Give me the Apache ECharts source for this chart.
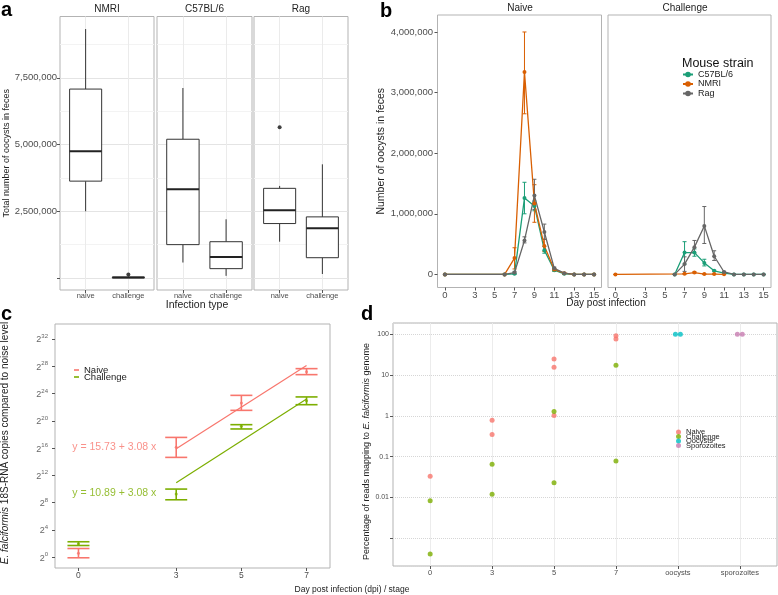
<!DOCTYPE html>
<html><head><meta charset="utf-8">
<script src="https://cdn.jsdelivr.net/npm/echarts@6/dist/echarts.min.js"></script>
<style>html,body{margin:0;padding:0;background:#fff}#c{width:778px;height:595px}</style>
</head><body><div id="c"></div><script>
// ================= DATA =================
// ---- Panel a: total oocysts per mouse strain (boxplots) ----
const strainsA = ['NMRI', 'C57BL/6', 'Rag'];
const infectionTypes = ['naive', 'challenge'];
// [min, Q1, median, Q3, max]
const boxNaiveA = [[2500000, 3630000, 4750000, 7080000, 9330000], [580000, 1250000, 3330000, 5200000, 7120000], [1360000, 2040000, 2540000, 3360000, 3450000]];
const boxChallengeA = [[0, 5000, 20000, 35000, 50000], [80000, 350000, 790000, 1360000, 2200000], [150000, 760000, 1860000, 2290000, 4260000]];
const outliersA = [['NMRI', 'challenge', 130000], ['Rag', 'naive', 5650000]];
const signifA = ['***', '***', 'NS'];
const signifLevelA = 9890000;
const ticksA = [0, 2500000, 5000000, 7500000];
const minorTicksA = [1250000, 3750000, 6250000, 8750000];

// ---- Panel b: oocysts per day ----
const strainsB = ['C57BL/6', 'NMRI', 'Rag'];
const ticksB_x = [0, 3, 5, 7, 9, 11, 13, 15];
const ticksB_y = [0, 1000000, 2000000, 3000000, 4000000];
const naiveDays = [0, 6, 7, 8, 9, 10, 11, 12, 13, 14, 15];
const c57NaiveMean = [0, 0, 10000, 1260000, 1130000, 400000, 70000, 10000, 0, 0, 0];
const c57NaiveLo   = [0, 0, 0, 1000000, 1050000, 350000, 50000, 0, 0, 0, 0];
const c57NaiveHi   = [0, 0, 20000, 1520000, 1210000, 460000, 90000, 20000, 0, 0, 0];
const nmriNaiveMean = [0, 0, 270000, 3340000, 1170000, 470000, 80000, 20000, 0, 0, 0];
const nmriNaiveLo   = [0, 0, 90000, 2650000, 860000, 380000, 60000, 10000, 0, 0, 0];
const nmriNaiveHi   = [0, 0, 440000, 4000000, 1480000, 580000, 100000, 30000, 0, 0, 0];
const ragNaiveMean = [0, 0, 30000, 560000, 1300000, 700000, 100000, 20000, 0, 0, 0];
const ragNaiveLo   = [0, 0, 10000, 520000, 1070000, 580000, 80000, 10000, 0, 0, 0];
const ragNaiveHi   = [0, 0, 50000, 620000, 1570000, 830000, 120000, 30000, 0, 0, 0];
const nmriChallengeDays = [0, 7, 8, 9, 10, 11];
const nmriChallengeMean = [0, 10000, 30000, 5000, 5000, 2000];
const nmriChallengeLo   = [0, 5000, 20000, 2000, 2000, 0];
const nmriChallengeHi   = [0, 15000, 45000, 8000, 8000, 4000];
const challengeDays = [6, 7, 8, 9, 10, 11, 12, 13, 14, 15];
const c57ChallengeMean = [0, 360000, 360000, 190000, 60000, 20000, 0, 0, 0, 0];
const c57ChallengeLo   = [0, 170000, 300000, 140000, 50000, 10000, 0, 0, 0, 0];
const c57ChallengeHi   = [0, 540000, 420000, 250000, 70000, 30000, 0, 0, 0, 0];
const ragChallengeMean = [0, 170000, 450000, 800000, 300000, 40000, 0, 0, 0, 0];
const ragChallengeLo   = [0, 50000, 350000, 510000, 230000, 30000, 0, 0, 0, 0];
const ragChallengeHi   = [0, 290000, 560000, 1120000, 390000, 50000, 0, 0, 0, 0];

// ---- Panel c: 18S-RNA copies (log2) ----
const daysC = [0, 3, 5, 7];
const ticksC_y = [0, 4, 8, 12, 16, 20, 24, 28, 32];
const naiveC   = [0.58, 16.1, 22.6, 27.2];
const naiveCLo = [-0.1, 14.63, 21.53, 26.77];
const naiveCHi = [1.26, 17.56, 23.73, 27.65];
const challengeC   = [1.95, 9.25, 19.2, 22.95];
const challengeCLo = [1.7, 8.41, 18.8, 22.36];
const challengeCHi = [2.25, 9.98, 19.43, 23.5];
const fitNaiveC = [[3, 15.9], [7, 28.1]];
const fitChallengeC = [[3, 10.9], [7, 23.2]];
const equationsC = ['y = 15.73 + 3.08 x', 'y = 10.89 + 3.08 x'];
const equationAnchorC = [[1.1, 16.2], [1.1, 9.4]];

// ---- Panel d: % reads mapping ----
const stagesD = ['0', '3', '5', '7', 'oocysts', 'sporozoites'];
const groupsD = ['Naive', 'Challenge', 'Oocysts', 'Sporozoites'];
const naiveD = [['0', 0.033], ['3', 0.78], ['3', 0.35], ['5', 25], ['5', 15.6], ['5', 1.02], ['7', 93], ['7', 77]];
const challengeD = [['0', 0.0083], ['0', 0.00041], ['3', 0.065], ['3', 0.012], ['5', 1.28], ['5', 0.023], ['7', 17.4], ['7', 0.078]];
const oocystsD = [['oocysts', 100], ['oocysts', 100]];
const sporozoitesD = [['sporozoites', 100], ['sporozoites', 100]];
const ticksD = [0.001, 0.01, 0.1, 1, 10, 100];
const tickLabelsD = ['', '0.01', '0.1', '1', '10', '100'];

// ================= STYLE =================
const FONT = 'Liberation Sans, Arial, Helvetica, sans-serif';
const AXTXT = '#4d4d4d';
const BORDER = '#b3b3b3';
const colB = {'C57BL/6': '#1b9e77', 'NMRI': '#d95f02', 'Rag': '#666666'};
const colNaive = '#F8766D', colChallenge = '#7CAE00', colOocysts = '#00BFC4', colSporo = '#C77CB0';
const AXLINE = {show: false, onZero: false};

function zip(xs, ys) { return xs.map((x, i) => [x, ys[i]]); }
function zip3(xs, a, b) { return xs.map((x, i) => [x, a[i], b[i]]); }

function errorBarSeries(name, data, color, capHalf, xi, yi, width) {
  return {
    type: 'custom', name: name, xAxisIndex: xi, yAxisIndex: yi, data: data, z: 3, silent: true,
    itemStyle: {color: color},
    renderItem: function (params, api) {
      const x = api.value(0), lo = api.value(1), hi = api.value(2);
      const a = api.coord([x, lo]), b = api.coord([x, hi]);
      const style = {stroke: color, lineWidth: width};
      return {type: 'group', children: [
        {type: 'line', shape: {x1: a[0], y1: a[1], x2: b[0], y2: b[1]}, style: style},
        {type: 'line', shape: {x1: a[0] - capHalf, y1: a[1], x2: a[0] + capHalf, y2: a[1]}, style: style},
        {type: 'line', shape: {x1: b[0] - capHalf, y1: b[1], x2: b[0] + capHalf, y2: b[1]}, style: style}
      ]};
    }
  };
}

function boxSeries(gi, boxes) {
  return {
    type: 'custom', xAxisIndex: gi, yAxisIndex: gi, data: boxes, z: 3, silent: true,
    renderItem: function (params, api) {
      const x = api.value(0);
      const p = [1, 2, 3, 4, 5].map(i => api.coord([x, api.value(i)]));
      const half = api.size([0.75, 0])[0] / 2;
      const ln = {stroke: '#333', lineWidth: 1};
      return {type: 'group', children: [
        {type: 'line', shape: {x1: p[0][0], y1: p[0][1], x2: p[1][0], y2: p[1][1]}, style: ln},
        {type: 'line', shape: {x1: p[3][0], y1: p[3][1], x2: p[4][0], y2: p[4][1]}, style: ln},
        {type: 'rect', shape: {x: p[3][0] - half, y: p[3][1], width: 2 * half, height: Math.max(p[1][1] - p[3][1], 0.5)}, style: {stroke: '#333', lineWidth: 1, fill: '#fff'}},
        {type: 'line', shape: {x1: p[2][0] - half, y1: p[2][1], x2: p[2][0] + half, y2: p[2][1]}, style: {stroke: '#222', lineWidth: 2}}
      ]};
    }
  };
}

// ================= GRIDS / AXES =================
const gridBase = {show: true, borderColor: BORDER, borderWidth: 1, backgroundColor: 'transparent', outerBoundsMode: 'none', containLabel: false};
const grids = [
  Object.assign({left: 60, top: 16.5, width: 94, height: 273.5}, gridBase),
  Object.assign({left: 157, top: 16.5, width: 95, height: 273.5}, gridBase),
  Object.assign({left: 254, top: 16.5, width: 94, height: 273.5}, gridBase),
  Object.assign({left: 437.5, top: 15, width: 164, height: 272.5}, gridBase),
  Object.assign({left: 608, top: 15, width: 163, height: 272.5}, gridBase),
  Object.assign({left: 55, top: 324, width: 275, height: 244}, gridBase),
  Object.assign({left: 393, top: 323, width: 384, height: 243}, gridBase)
];

const xAxes = [], yAxes = [];
// panel a x axes (0..2)
for (let s = 0; s < 3; s++) {
  xAxes.push({type: 'value', gridIndex: s, min: 0.4, max: 2.6,
    axisLine: AXLINE,
    axisTick: {show: true, length: 3, lineStyle: {color: '#555'}, customValues: [1, 2]},
    axisLabel: {customValues: [1, 2], formatter: v => infectionTypes[Math.round(v) - 1], fontSize: 7.5, color: AXTXT, margin: 2, fontFamily: FONT},
    splitLine: {show: true, lineStyle: {color: '#ebebeb', width: 1}}});
}
// panel b x axes (3,4)
for (let k = 0; k < 2; k++) {
  xAxes.push({type: 'value', gridIndex: 3 + k, min: -0.75, max: 15.75,
    axisLine: AXLINE,
    axisTick: {show: true, length: 3, lineStyle: {color: '#555'}, customValues: ticksB_x},
    axisLabel: {customValues: ticksB_x, fontSize: 9.5, color: AXTXT, margin: 3, fontFamily: FONT},
    splitLine: {show: false}});
}
// panel c x axis (5)
xAxes.push({type: 'value', gridIndex: 5, min: -0.72, max: 7.72,
  axisLine: AXLINE,
  axisTick: {show: true, length: 3, lineStyle: {color: '#555'}, customValues: daysC},
  axisLabel: {customValues: daysC, fontSize: 8.5, color: AXTXT, margin: 3, fontFamily: FONT},
  splitLine: {show: false}});
// panel d x axis (6)
const stageIdx = stagesD.map((s, i) => i + 1);
xAxes.push({type: 'value', gridIndex: 6, min: 0.4, max: 6.6,
  axisLine: AXLINE,
  axisTick: {show: true, length: 3, lineStyle: {color: '#555'}, customValues: stageIdx},
  axisLabel: {customValues: stageIdx, formatter: v => stagesD[Math.round(v) - 1], fontSize: 7.5, color: AXTXT, margin: 3, fontFamily: FONT},
  splitLine: {show: true, lineStyle: {color: '#ececec', width: 1}}});

// panel a y axes (0..2 major)
for (let s = 0; s < 3; s++) {
  yAxes.push({type: 'value', gridIndex: s, min: -450000, max: 9800000,
    name: s === 0 ? 'Total number of oocysts in feces' : '', nameLocation: 'middle', nameGap: 49,
    nameTextStyle: {fontSize: 9, color: '#222', fontFamily: FONT},
    axisLine: AXLINE,
    axisTick: {show: s === 0, length: 3, lineStyle: {color: '#555'}, customValues: ticksA},
    axisLabel: {show: s === 0, customValues: ticksA, formatter: v => (v === 0 ? '' : v.toLocaleString('en-US')), fontSize: 9.5, color: AXTXT, margin: 3, fontFamily: FONT},
    splitLine: {show: true, lineStyle: {color: '#e4e4e4', width: 1}}});
}
// panel a minor y axes (3..5)
for (let s = 0; s < 3; s++) {
  yAxes.push({type: 'value', gridIndex: s, min: -450000, max: 9800000, position: 'left',
    axisLine: AXLINE, axisLabel: {show: false},
    axisTick: {show: false, customValues: minorTicksA},
    splitLine: {show: true, lineStyle: {color: '#f3f3f3', width: 1}}});
}
// panel b y axes (6,7)
for (let k = 0; k < 2; k++) {
  yAxes.push({type: 'value', gridIndex: 3 + k, min: -216000, max: 4280000,
    name: k === 0 ? 'Number of oocysts in feces' : '', nameLocation: 'middle', nameGap: 46,
    nameTextStyle: {fontSize: 10.5, color: '#222', fontFamily: FONT},
    axisLine: AXLINE,
    axisTick: {show: k === 0, length: 3, lineStyle: {color: '#555'}, customValues: ticksB_y},
    axisLabel: {show: k === 0, customValues: ticksB_y, formatter: v => v.toLocaleString('en-US'), fontSize: 9.5, color: AXTXT, margin: 4.5, fontFamily: FONT},
    splitLine: {show: false}});
}
// panel c y axis (8)
yAxes.push({type: 'value', gridIndex: 5, min: -1.6, max: 34.2,
  name: '{i|E. falciformis} 18S-RNA copies compared to noise level', nameLocation: 'middle', nameGap: 45,
  nameTextStyle: {fontSize: 10, color: '#222', fontFamily: FONT, padding: [0, 0, 0, 6],
    rich: {i: {fontStyle: 'italic', fontSize: 10, color: '#222', fontFamily: FONT}}},
  axisLine: AXLINE,
  axisTick: {show: true, length: 3, lineStyle: {color: '#555'}, customValues: ticksC_y},
  axisLabel: {customValues: ticksC_y, formatter: v => '{b|2}{s|' + v + '}', margin: 7,
    rich: {b: {fontSize: 9, color: '#666', fontFamily: FONT, verticalAlign: 'bottom'},
           s: {fontSize: 6, color: '#666', fontFamily: FONT, verticalAlign: 'top', padding: [0, 0, 5, 0]}}},
  splitLine: {show: false}});
// panel d y axis (9)
yAxes.push({type: 'log', logBase: 10, gridIndex: 6, min: 0.000209, max: 190,
  name: 'Percentage of reads mapping to {i|E. falciformis} genome', nameLocation: 'middle', nameGap: 18,
  nameTextStyle: {fontSize: 9, color: '#222', fontFamily: FONT, padding: [0, 14, 0, 0],
    rich: {i: {fontStyle: 'italic', fontSize: 9, color: '#222', fontFamily: FONT}}},
  axisLine: AXLINE,
  axisTick: {show: true, length: 3, lineStyle: {color: '#555'}},
  axisLabel: {showMinLabel: false, showMaxLabel: false, fontSize: 7, color: AXTXT, margin: 4, fontFamily: FONT,
    formatter: v => { const e = Math.round(Math.log10(v)); const i = ticksD.findIndex(t => Math.abs(Math.log10(t) - e) < 1e-6); return i >= 0 ? tickLabelsD[i] : ''; }},
  splitLine: {show: true, lineStyle: {color: '#d6d6d6', type: 'dotted', width: 1}}});

// ================= SERIES =================
const series = [];
// panel a
for (let s = 0; s < 3; s++) {
  series.push(boxSeries(s, [[1].concat(boxNaiveA[s]), [2].concat(boxChallengeA[s])]));
  const outs = outliersA.filter(o => o[0] === strainsA[s]).map(o => [infectionTypes.indexOf(o[1]) + 1, o[2]]);
  series.push({type: 'scatter', xAxisIndex: s, yAxisIndex: s, data: outs, symbolSize: 4, itemStyle: {color: '#111'}, z: 4, silent: true});
  series.push({type: 'line', xAxisIndex: s, yAxisIndex: s, data: [[1, signifLevelA], [2, signifLevelA]], symbol: 'none', lineStyle: {color: '#222', width: 1.5}, z: 4, silent: true});
  const isNS = signifA[s] === 'NS';
  series.push({type: 'scatter', xAxisIndex: s, yAxisIndex: s, data: [[1.5, signifLevelA]], symbolSize: 1, itemStyle: {color: 'rgba(0,0,0,0)'}, silent: true,
    label: {show: true, position: 'bottom', distance: 0, formatter: signifA[s], fontSize: isNS ? 10 : 9, color: isNS ? '#222' : '#777', fontFamily: FONT}});
}
// panel b
const bNaive = {
  'C57BL/6': [naiveDays, c57NaiveMean, c57NaiveLo, c57NaiveHi],
  'NMRI': [naiveDays, nmriNaiveMean, nmriNaiveLo, nmriNaiveHi],
  'Rag': [naiveDays, ragNaiveMean, ragNaiveLo, ragNaiveHi]
};
const bChallenge = {
  'C57BL/6': [challengeDays, c57ChallengeMean, c57ChallengeLo, c57ChallengeHi],
  'NMRI': [nmriChallengeDays, nmriChallengeMean, nmriChallengeLo, nmriChallengeHi],
  'Rag': [challengeDays, ragChallengeMean, ragChallengeLo, ragChallengeHi]
};
[bNaive, bChallenge].forEach((set, k) => {
  strainsB.forEach(st => {
    const d = set[st];
    series.push({type: 'line', name: st, xAxisIndex: 3 + k, yAxisIndex: 6 + k, data: zip(d[0], d[1]),
      symbol: 'circle', symbolSize: 4, showSymbol: true, color: colB[st], itemStyle: {color: colB[st]},
      lineStyle: {color: colB[st], width: 1.3}, z: 4, silent: true});
    series.push(errorBarSeries(st + ' error', zip3(d[0], d[2], d[3]), colB[st], 2, 3 + k, 6 + k, 1));
  });
});
// panel c
series.push(errorBarSeries('Naive error', zip3(daysC, naiveCLo, naiveCHi), colNaive, 11, 5, 8, 1.6));
series.push(errorBarSeries('Challenge error', zip3(daysC, challengeCLo, challengeCHi), colChallenge, 11, 5, 8, 1.6));
series.push({type: 'scatter', name: 'Naive', xAxisIndex: 5, yAxisIndex: 8, data: zip(daysC, naiveC), symbolSize: 3, itemStyle: {color: colNaive}, z: 4, silent: true});
series.push({type: 'scatter', name: 'Challenge', xAxisIndex: 5, yAxisIndex: 8, data: zip(daysC, challengeC), symbolSize: 3, itemStyle: {color: colChallenge}, z: 4, silent: true});
series.push({type: 'line', xAxisIndex: 5, yAxisIndex: 8, data: fitNaiveC, symbol: 'none', lineStyle: {color: colNaive, width: 1.2}, silent: true});
series.push({type: 'line', xAxisIndex: 5, yAxisIndex: 8, data: fitChallengeC, symbol: 'none', lineStyle: {color: colChallenge, width: 1.2}, silent: true});
[colNaive, colChallenge].forEach((c, i) => {
  series.push({type: 'scatter', xAxisIndex: 5, yAxisIndex: 8, data: [equationAnchorC[i]], symbolSize: 1, itemStyle: {color: 'rgba(0,0,0,0)'}, silent: true,
    label: {show: true, position: 'inside', formatter: equationsC[i], fontSize: 10.5, color: c, fontFamily: FONT}});
});
// panel d
function dodge(points) {
  return points.map(p => {
    const same = points.filter(q => q[0] === p[0] && q[1] === p[1]);
    const k = same.indexOf(p);
    const off = same.length > 1 ? (k - (same.length - 1) / 2) * 0.08 : 0;
    return [stagesD.indexOf(p[0]) + 1 + off, p[1]];
  });
}
[[naiveD, colNaive, 'Naive'], [challengeD, colChallenge, 'Challenge'], [oocystsD, colOocysts, 'Oocysts'], [sporozoitesD, colSporo, 'Sporozoites']].forEach(g => {
  series.push({type: 'scatter', name: g[2], xAxisIndex: 6, yAxisIndex: 9, data: dodge(g[0]), symbolSize: 5, itemStyle: {color: g[1]}, z: 4, silent: true});
});

// ================= TEXT =================
function txt(t, x, y, o) {
  o = o || {};
  return {type: 'text', x: x, y: y, rotation: o.rot || 0, silent: true, z: 10,
    style: {text: t, fontSize: o.size || 10, fontWeight: o.bold ? 'bold' : 'normal', fontFamily: FONT,
      fill: o.color || '#222', align: o.align || 'center', verticalAlign: o.va || 'middle'}};
}
const graphics = [
  txt('a', 1, 20, {size: 20, bold: true, align: 'left', va: 'bottom', color: '#000'}),
  txt('b', 380, 21, {size: 20, bold: true, align: 'left', va: 'bottom', color: '#000'}),
  txt('c', 1, 324, {size: 20, bold: true, align: 'left', va: 'bottom', color: '#000'}),
  txt('d', 361, 324, {size: 20, bold: true, align: 'left', va: 'bottom', color: '#000'}),
  txt(strainsA[0], 107, 9.5, {size: 10}),
  txt(strainsA[1], 204.5, 9.5, {size: 10}),
  txt(strainsA[2], 301, 9.5, {size: 10}),
  txt('Infection type', 197, 305.5, {size: 10.5}),
  txt('Naive', 520, 8.5, {size: 10}),
  txt('Challenge', 685, 8.5, {size: 10}),
  txt('Day post infection', 606, 303.5, {size: 10}),
  txt('Mouse strain', 682, 63.5, {size: 12.5, align: 'left', color: '#111'}),
  txt('Day post infection (dpi) / stage', 352, 590, {size: 8.5})
];

const option = {
  animation: false,
  backgroundColor: '#fff',
  textStyle: {fontFamily: FONT},
  grid: grids, xAxis: xAxes, yAxis: yAxes, series: series,
  legend: [
    {data: strainsB, orient: 'vertical', left: 682, top: 70, padding: 0, itemGap: 0.5, itemWidth: 10, itemHeight: 7,
      textStyle: {fontSize: 9, color: '#222', fontFamily: FONT}, selectedMode: false},
    {data: ['Naive', 'Challenge'], orient: 'vertical', left: 74, top: 365, padding: 0, itemGap: -3, itemWidth: 5, itemHeight: 2, icon: 'rect',
      textStyle: {fontSize: 9.5, color: '#222', fontFamily: FONT}, selectedMode: false},
    {data: groupsD, orient: 'vertical', left: 676, top: 428, padding: 0, itemGap: -3.5, itemWidth: 5, itemHeight: 5, icon: 'circle',
      textStyle: {fontSize: 7.5, color: '#222', fontFamily: FONT}, selectedMode: false}
  ],
  graphic: graphics
};
const chart = echarts.init(document.getElementById('c'), null, {renderer: 'canvas', width: 778, height: 595});
chart.setOption(option);
</script></body></html>
